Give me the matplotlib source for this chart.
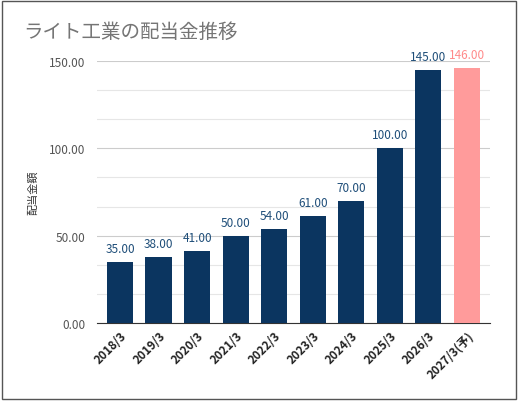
import matplotlib.pyplot as plt
from matplotlib.patches import Rectangle

plt.rcParams['font.family'] = ['Noto Sans CJK JP', 'DejaVu Sans']

years = ['2018/3', '2019/3', '2020/3', '2021/3', '2022/3', '2023/3',
         '2024/3', '2025/3', '2026/3', '2027/3(予)']
dividends = [35, 38, 41, 50, 54, 61, 70, 100, 145, 146]
colors = ['#0b3560'] * 9 + ['#ff9b9b']
label_colors = ['#1f4e79'] * 9 + ['#ff8a8a']

fig = plt.figure(figsize=(5.18, 4.02), dpi=100)
ax = fig.add_axes([0.187, 0.194, 0.759, 0.652])

x = range(len(years))
ax.bar(x, dividends, width=0.68, color=colors, zorder=3)
for i, v in enumerate(dividends):
    ax.text(i, v + 4, f'{v:.2f}', ha='center', va='bottom', fontsize=8.5,
            color=label_colors[i], zorder=4)

ax.set_ylim(0, 150)
ax.set_xlim(-0.6, len(years) - 0.4)
ax.set_yticks([0, 50, 100, 150])
ax.set_yticklabels([f'{t:.2f}' for t in [0, 50, 100, 150]])
ax.set_yticks([50 / 3 * k for k in range(1, 9) if k % 3], minor=True)
ax.grid(axis='y', which='major', color='#cccccc', linewidth=0.8, zorder=0)
ax.grid(axis='y', which='minor', color='#e6e6e6', linewidth=0.8, zorder=0)
ax.tick_params(axis='y', which='both', length=0, labelsize=8.5, labelcolor='#555555', pad=8)
ax.set_xticks(list(x))
ax.set_xticklabels(years, rotation=45, ha='right', rotation_mode='anchor',
                   fontsize=8.5, fontweight='bold', color='#222222')
ax.tick_params(axis='x', length=0, pad=4)
for s in ['top', 'right', 'left']:
    ax.spines[s].set_visible(False)
ax.spines['bottom'].set_color('#333333')
ax.set_ylabel('配当金額', fontsize=8, color='#333333', labelpad=8)

fig.text(0.045, 0.92, 'ライト工業の配当金推移', fontsize=14, color='#757575', va='center')
fig.patches.append(Rectangle((0.004, 0.004), 0.992, 0.992, transform=fig.transFigure,
                             fill=False, edgecolor='#555555', linewidth=1))

fig.savefig('out.png', dpi=100)
